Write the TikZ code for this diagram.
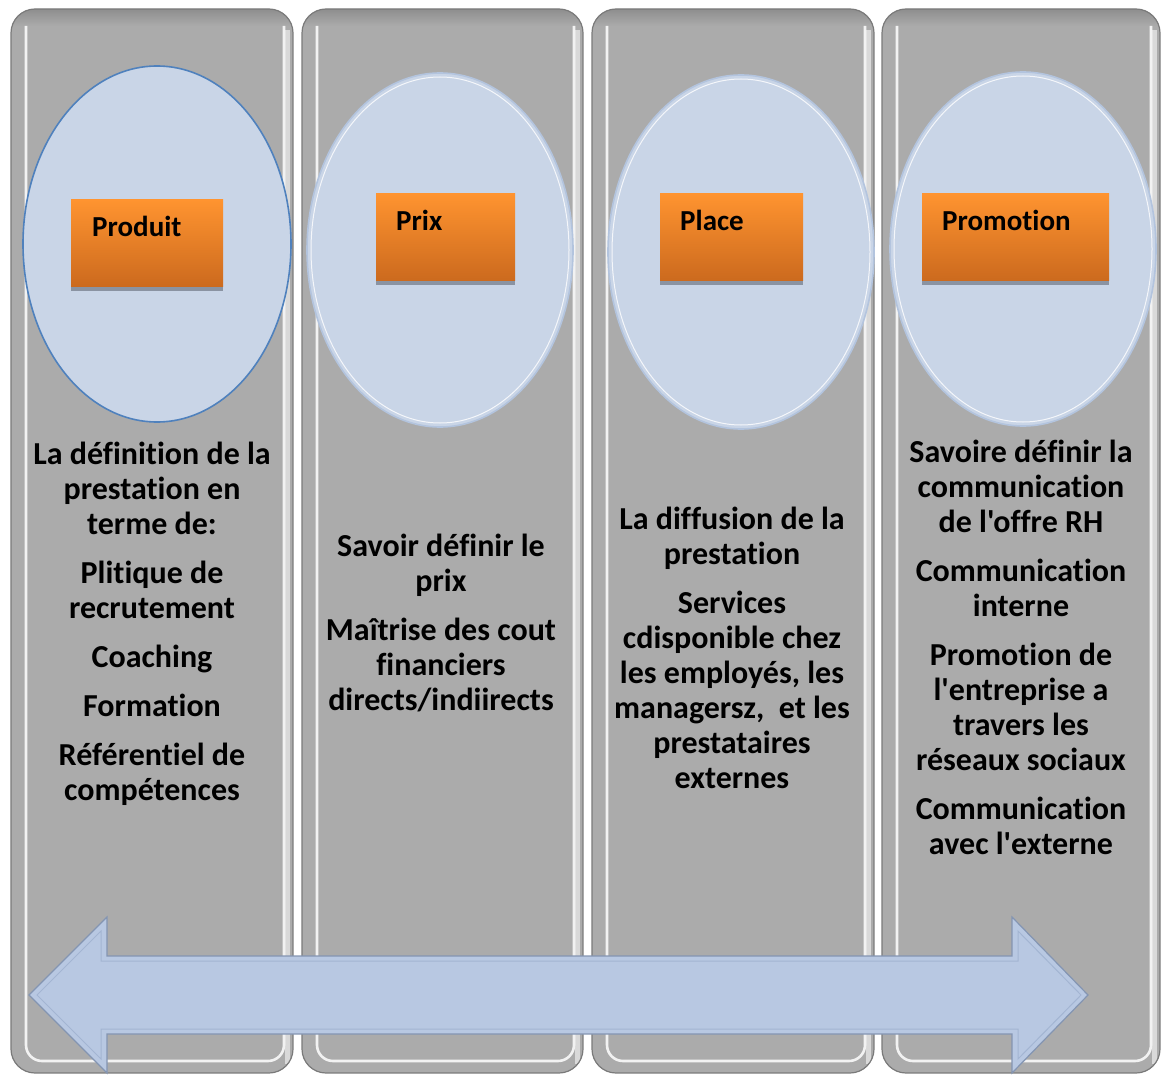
\documentclass[tikz,border=0pt]{standalone}
\usepackage{fontspec}
\newfontfamily\lbl{Carlito}[Ligatures=NoCommon]
\usetikzlibrary{shapes.geometric}

\definecolor{colgrey}{HTML}{ABABAB}
\definecolor{coltop}{HTML}{8E8E8E}
\definecolor{coledge}{HTML}{7A7A7A}
\definecolor{ellfill}{HTML}{C9D5E7}
\definecolor{elledge}{HTML}{4F81BD}
\definecolor{ellsoft}{HTML}{B3C4DE}
\definecolor{orangetop}{HTML}{FF9430}
\definecolor{orangebot}{HTML}{CC6A1E}
\definecolor{boxshadow}{HTML}{8A93A2}
\definecolor{arrowfill}{HTML}{B8C8E2}
\definecolor{arrowedge}{HTML}{8495B2}
\definecolor{arrowbevel}{HTML}{A3B5D2}

\begin{document}
\begin{tikzpicture}[x=1pt,y=-1pt,
  columnfill/.style={fill=colgrey,rounded corners=24pt},
  columnedge/.style={draw=coledge,line width=1.2pt,rounded corners=24pt},
  highlight/.style={draw=white,line width=2.6pt,rounded corners=16pt,opacity=0.85},
  sheen/.style={draw=white,line width=5pt,opacity=0.55},
  bubble/.style={ellipse,inner sep=0pt,fill=ellfill,draw=ellsoft,line width=1.6pt,
    minimum width=266pt,minimum height=354pt},
  tag/.style={rectangle,inner sep=0pt,top color=orangetop,bottom color=orangebot,
    draw=none},
  tagshadow/.style={fill=boxshadow,draw=none},
  tagtext/.style={anchor=base west,inner sep=0pt,
    font=\lbl\bfseries\fontsize{29}{35}\selectfont},
  body/.style={align=center,inner sep=0pt,
    font=\lbl\bfseries\fontsize{32}{35}\selectfont}]
\useasboundingbox (0,0) rectangle (1162,1075);

% four grey columns with a bevelled rim
\foreach \xl/\xr in {11/293, 302/583, 592/874, 882/1160}{
  \begin{scope}
    \clip[rounded corners=24pt] (\xl,9) rectangle (\xr,1073);
    \fill[colgrey] (\xl,9) rectangle (\xr,1073);
    \shade[top color=coltop,bottom color=colgrey] (\xl,9) rectangle (\xr,26);
    \draw[highlight] (\xl+15,26) -- (\xl+15,1061) -- (\xr-9,1061) -- (\xr-9,26);
    \draw[sheen] (\xr-6,30) -- (\xr-6,1064);
  \end{scope}
  \draw[columnedge] (\xl,9) rectangle (\xr,1073);
}

% bubbles
\node[bubble,draw=elledge,minimum width=268pt,minimum height=356pt] (e1) at (157,244) {};
\node[bubble] (e2) at (440,250) {};
\node[bubble] (e3) at (741,252) {};
\node[bubble] (e4) at (1023,249) {};
\foreach \n in {e2,e3,e4}{
  \draw[white,line width=1pt,opacity=0.8] (\n.center) ellipse [x radius=129pt,y radius=173pt];
}

% orange tags with shadows
\fill[tagshadow] (71,204) rectangle (223,291);
\node[tag,minimum width=152pt,minimum height=87pt,anchor=north west] (t1) at (71,199) {};
\fill[tagshadow] (376,198) rectangle (515,285);
\node[tag,minimum width=139pt,minimum height=87pt,anchor=north west] (t2) at (376,193) {};
\fill[tagshadow] (660,198) rectangle (803,285);
\node[tag,minimum width=143pt,minimum height=87pt,anchor=north west] (t3) at (660,193) {};
\fill[tagshadow] (922,198) rectangle (1109,285);
\node[tag,minimum width=187pt,minimum height=87pt,anchor=north west] (t4) at (922,193) {};

\node[tagtext] (l1) at (92,237) {Produit};
\node[tagtext] (l2) at (396,231) {Prix};
\node[tagtext] (l3) at (680,231) {Place};
\node[tagtext] (l4) at (942,231) {Promotion};

% column texts
\node[body] (b1) at (152,623.5) {La définition de la\\prestation en\\terme de:\\[14pt]
  Plitique de\\recrutement\\[14pt]Coaching\\[14pt]Formation\\[14pt]
  Référentiel de\\compétences};
\node[body] (b2) at (441,623) {Savoir définir le\\prix\\[14pt]
  Maîtrise des cout\\financiers\\directs/indiirects};
\node[body] (b3) at (732,648) {La diffusion de la\\prestation\\[14pt]
  Services\\cdisponible chez\\les employés, les\\managersz,\ \ et les\\prestataires\\externes};
\node[body] (b4) at (1021,647.5) {Savoire définir la\\communication\\de l'offre RH\\[14pt]
  Communication\\interne\\[14pt]Promotion de\\l'entreprise a\\travers les\\réseaux sociaux\\[14pt]
  Communication\\avec l'externe};

% double-headed arrow across the columns
\draw[fill=arrowfill,draw=arrowedge,line width=1.2pt,line join=miter]
  (29,995) -- (107,917) -- (107,956) -- (1012,956) -- (1012,917) -- (1088,995)
  -- (1012,1073) -- (1012,1034) -- (107,1034) -- (107,1073) -- cycle;
\draw[arrowbevel,line width=1pt,line join=miter]
  (37,995) -- (101,931) -- (101,961) -- (1018,961) -- (1018,931) -- (1081,995)
  -- (1018,1059) -- (1018,1029) -- (101,1029) -- (101,1059) -- cycle;
\end{tikzpicture}
\end{document}
